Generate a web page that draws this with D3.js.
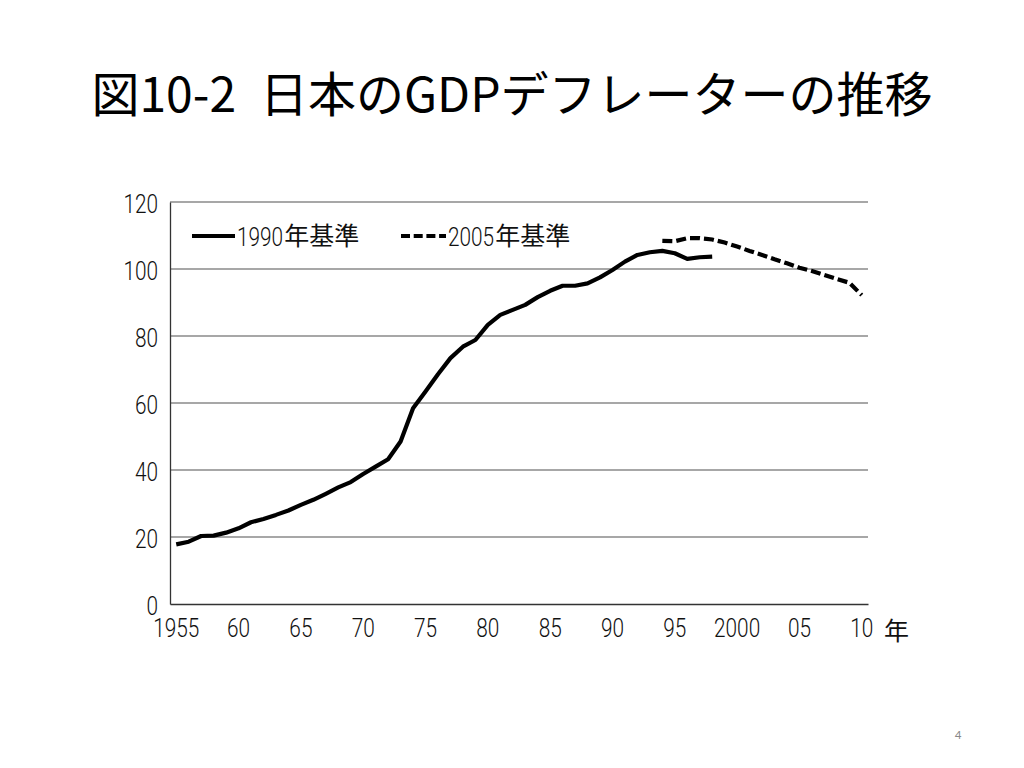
<!DOCTYPE html>
<html><head><meta charset="utf-8">
<script src="https://cdn.jsdelivr.net/npm/d3@7"></script>
<style>
body{margin:0;background:#fff;}
svg{display:block;}
</style></head>
<body>
<svg id="c" width="1024" height="768"></svg>
<script>
const years = d3.range(1955, 2011);
const xTickLabels = ["1955","60","65","70","75","80","85","90","95","2000","05","10"];
const yTicks = [0,20,40,60,80,100,120];
const base1990Years = d3.range(1955, 1999);
const base1990 = [17.8,18.6,20.3,20.4,21.3,22.6,24.4,25.4,26.6,27.9,29.6,31.1,32.9,34.8,36.4,38.8,41.0,43.2,48.5,58.4,63.4,68.6,73.4,76.8,78.8,83.3,86.3,87.8,89.3,91.6,93.5,95.0,95.0,95.7,97.5,99.7,102.2,104.2,105.0,105.4,104.7,103.0,103.5,103.7];
const base2005Years = d3.range(1994, 2011);
const base2005 = [108.4,108.3,109.2,109.2,108.8,107.9,106.7,105.4,104.2,102.9,101.7,100.4,99.4,98.2,97.0,95.9,92.2];
const seriesYears = ["1990","2005"];
const seriesSuffix = "年基準";

const SX = 0.8;
const NUMFONT = "Roboto,'Liberation Sans',sans-serif";
const CJK = "'Noto Sans CJK JP',sans-serif";

const svg = d3.select("#c");
const L=170, R=868, T=202, B=604;

svg.append("text").attr("x",512).attr("y",112).attr("text-anchor","middle")
  .attr("font-family",CJK).attr("font-size",48).attr("fill","#000")
  .text("図10-2\u2002日本のGDPデフレーターの推移");

const x = d3.scaleBand().domain(years).range([L,R]);
const y = d3.scaleLinear().domain([0,120]).range([B,T]);
const cx = d => x(d)+x.bandwidth()/2;

// gridlines
svg.append("g").selectAll("line").data(yTicks.filter(v=>v>0)).join("line")
  .attr("x1",L).attr("x2",R).attr("y1",d=>y(d)).attr("y2",d=>y(d))
  .attr("stroke","#8a8a8a").attr("stroke-width",1.3);

function narrow(sel){
  sel.attr("font-family",NUMFONT).attr("font-weight",300).attr("font-size",26).attr("fill","#111")
    .attr("x", function(){ return (+d3.select(this).attr("x")||0)/SX; })
    .attr("transform",`scale(${SX},1)`);
}

// y axis
const ya = svg.append("g").attr("transform",`translate(${L},0)`)
  .call(d3.axisLeft(y).tickValues(yTicks).tickSize(0).tickPadding(12));
ya.select(".domain").attr("stroke","#333").attr("stroke-width",1.3);
ya.selectAll("text").attr("dy","0.42em").call(narrow);

// x axis
const labelYears = [1955,1960,1965,1970,1975,1980,1985,1990,1995,2000,2005,2010];
const xa = svg.append("g").attr("transform",`translate(0,${B})`)
  .call(d3.axisBottom(x).tickValues(labelYears).tickSize(0).tickPadding(15)
    .tickFormat((d,i)=>xTickLabels[i]));
xa.select(".domain").attr("stroke","#333").attr("stroke-width",1.3);
xa.selectAll("text").call(narrow);
svg.append("text").attr("x",884).attr("y",640).attr("font-size",25)
  .attr("font-family",CJK).attr("fill","#111").text("年");

const line = d3.line().x(d=>cx(d[0])).y(d=>y(d[1]));
svg.append("path").datum(base1990Years.map((yr,i)=>[yr,base1990[i]]))
  .attr("d",line).attr("fill","none").attr("stroke","#000").attr("stroke-width",4.2).attr("stroke-linejoin","round");
svg.append("path").datum(base2005Years.map((yr,i)=>[yr,base2005[i]]))
  .attr("d",line).attr("fill","none").attr("stroke","#000").attr("stroke-width",4.2).attr("stroke-dasharray","10,4");

// legend
const lg = svg.append("g");
function legendItem(x0, x1, dash, yrs){
  const ln = lg.append("line").attr("x1",x0).attr("x2",x1).attr("y1",236).attr("y2",236).attr("stroke","#000").attr("stroke-width",4.2);
  if(dash) ln.attr("stroke-dasharray",dash);
  const t = lg.append("text").attr("x",x1+2).attr("y",246).text(yrs).call(narrow);
  const w = t.node().getBBox().width*SX;
  lg.append("text").attr("x",x1+2+w+1).attr("y",245).attr("font-family",CJK).attr("font-size",25).attr("fill","#111").text(seriesSuffix);
}
legendItem(192,235,null,seriesYears[0]);
legendItem(401,446,"9,3.7",seriesYears[1]);

svg.append("text").attr("x",958).attr("y",739).attr("text-anchor","middle").attr("font-family","Calibri,Carlito,'Liberation Sans',sans-serif")
  .attr("font-size",13).attr("fill","#888").text("4");
</script>
</body></html>
